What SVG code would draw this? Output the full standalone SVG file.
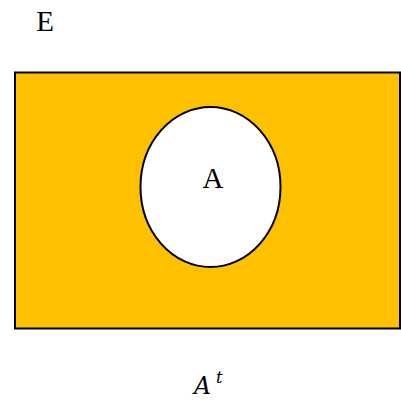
<svg xmlns="http://www.w3.org/2000/svg" width="401" height="402" viewBox="0 0 401 402">
<style>
.t{font-family:"Liberation Serif",serif;font-size:29px;fill:#000}
.m{font-family:"DejaVu Serif","Liberation Serif",serif;font-style:italic;fill:#000}
</style>
<rect width="401" height="402" fill="#fff"/>
<g id="universe">
<rect x="15" y="72.5" width="385" height="256" fill="#FFC000" stroke="#000" stroke-width="2"/>
<text class="t" x="45" y="30.5" text-anchor="middle">E</text>
</g>
<g id="setA">
<ellipse cx="210.5" cy="187" rx="70" ry="80" fill="#fff" stroke="#000" stroke-width="2"/>
<text class="t" x="213" y="188" text-anchor="middle" font-size="31">A</text>
</g>
<g id="label">
<text class="m" x="194" y="394" font-size="23.5">A</text>
<text class="m" x="216" y="383" font-size="16.5">t</text>
</g>
</svg>
